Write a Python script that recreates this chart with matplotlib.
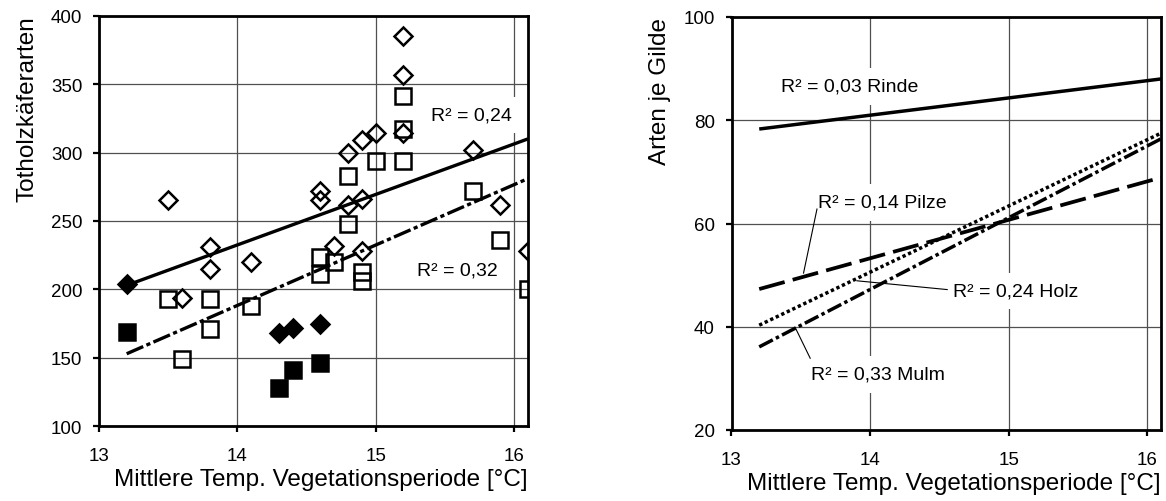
import matplotlib
matplotlib.use("Agg")
import matplotlib.pyplot as plt

plt.rcParams['font.family'] = ['Liberation Sans', 'DejaVu Sans']
plt.rcParams['font.size'] = 13.5
plt.rcParams['lines.scale_dashes'] = False

# --- left panel: species counts per site vs. mean temperature ---
open_diamond_t = [13.5, 13.6, 13.8, 13.8, 14.1, 14.6, 14.6, 14.7, 14.8, 14.8,
                  14.9, 14.9, 14.9, 15.0, 15.2, 15.2, 15.2, 15.7, 15.9, 16.1]
open_diamond_n = [265, 194, 231, 215, 220, 272, 265, 232, 300, 262,
                  309, 266, 228, 314, 385, 357, 314, 302, 262, 228]

open_square_t = [13.5, 13.6, 13.8, 13.8, 14.1, 14.6, 14.6, 14.7, 14.8, 14.8,
                 14.9, 14.9, 15.0, 15.2, 15.2, 15.2, 15.7, 15.9, 16.1]
open_square_n = [193, 149, 193, 171, 188, 224, 211, 220, 283, 248,
                 213, 206, 294, 341, 317, 294, 272, 236, 200]

filled_diamond_t = [13.2, 14.3, 14.4, 14.6]
filled_diamond_n = [204, 168, 172, 175]
filled_square_t = [13.2, 14.3, 14.4, 14.6]
filled_square_n = [169, 128, 141, 146]

trend_t = [13.2, 16.1]
trend_diamond = [203, 310]
trend_square = [153, 281]

# --- right panel: regression lines per guild ---
guild_t = [13.2, 16.1]
rinde = [78.3, 88.0]
pilze = [47.3, 68.9]
holz = [40.3, 77.5]
mulm = [36.1, 76.4]

xlabel = 'Mittlere Temp. Vegetationsperiode [°C]'
LABEL_SIZE = 17.5
NOTE_SIZE = 14

fig = plt.figure(figsize=(11.66, 5.02), dpi=100)
W, H = 1166, 502
ax1 = fig.add_axes([99 / W, 1 - 427.3 / H, (528 - 99) / W, (427.3 - 16.7) / H])
ax2 = fig.add_axes([731.5 / W, 1 - 431 / H, (1161 - 731.5) / W, (431 - 18) / H])


def style_axes(ax):
    ax.set_axisbelow(True)
    ax.grid(True, color='#505050', lw=0.9)
    for s in ax.spines.values():
        s.set_linewidth(2.0)
        s.set_color('black')
    ax.tick_params(axis='both', direction='out', length=4, width=1.6,
                   colors='black', labelsize=13.5)
    ax.tick_params(axis='x', pad=11)
    ax.tick_params(axis='y', pad=8)
    ax.set_xlim(13, 16.1)
    ax.set_xticks([13, 14, 15, 16])
    ax.set_xlabel(xlabel, loc='right', labelpad=3, fontsize=LABEL_SIZE)


style_axes(ax1)
ax1.set_ylim(100, 400)
ax1.set_yticks(range(100, 401, 50))
ax1.set_ylabel('Totholzkäferarten', loc='top', labelpad=9, fontsize=LABEL_SIZE)

mk = dict(linestyle='none', mec='black', mew=1.8, zorder=3)
ax1.plot(open_square_t, open_square_n, marker='s', ms=11.9, mfc='none', **mk)
ax1.plot(filled_square_t, filled_square_n, marker='s', ms=11.9, mfc='black', **mk)
ax1.plot(open_diamond_t, open_diamond_n, marker='D', ms=8.8, mfc='none', **mk)
ax1.plot(filled_diamond_t, filled_diamond_n, marker='D', ms=8.8, mfc='black', **mk)

ax1.plot(trend_t, trend_diamond, color='black', lw=2.4, solid_capstyle='butt', zorder=4)
ax1.plot(trend_t, trend_square, color='black', lw=2.4, dashes=(13, 2.5, 3, 2.5),
         dash_capstyle='butt', zorder=4)

box = dict(boxstyle='square,pad=0.5', fc='white', ec='none')
note = dict(ha='left', va='baseline', bbox=box, zorder=1, fontsize=NOTE_SIZE)
ax1.text(15.40, 324, 'R² = 0,24', **note)
ax1.text(15.295, 211, 'R² = 0,32', **note)

style_axes(ax2)
ax2.set_ylim(20, 100)
ax2.set_yticks(range(20, 101, 20))
ax2.set_ylabel('Arten je Gilde', loc='top', labelpad=9, fontsize=LABEL_SIZE)

ax2.plot(guild_t, rinde, color='black', lw=2.5, solid_capstyle='butt', zorder=4)
ax2.plot(guild_t, pilze, color='black', lw=2.7, dashes=(19, 6), dash_capstyle='butt', zorder=4)
ax2.plot(guild_t, holz, color='black', lw=2.5, dashes=(2.4, 2.0), dash_capstyle='butt', zorder=4)
ax2.plot(guild_t, mulm, color='black', lw=2.5, dashes=(11, 2.5, 2.5, 2.5),
         dash_capstyle='butt', zorder=4)

ax2.text(13.358, 85.7, 'R² = 0,03 Rinde', **note)
ax2.text(13.624, 63.2, 'R² = 0,14 Pilze', **note)
ax2.text(14.60, 46.0, 'R² = 0,24 Holz', **note)
ax2.text(13.573, 29.9, 'R² = 0,33 Mulm', **note)

# leader lines from labels to their regression lines
leader = dict(color='black', lw=0.8, zorder=1.6)
ax2.plot([13.617, 13.52], [62.8, 50.4], **leader)
ax2.plot([14.557, 13.906], [47.2, 48.9], **leader)
ax2.plot([13.568, 13.459], [33.9, 39.9], **leader)

fig.savefig('out.png', dpi=100)
